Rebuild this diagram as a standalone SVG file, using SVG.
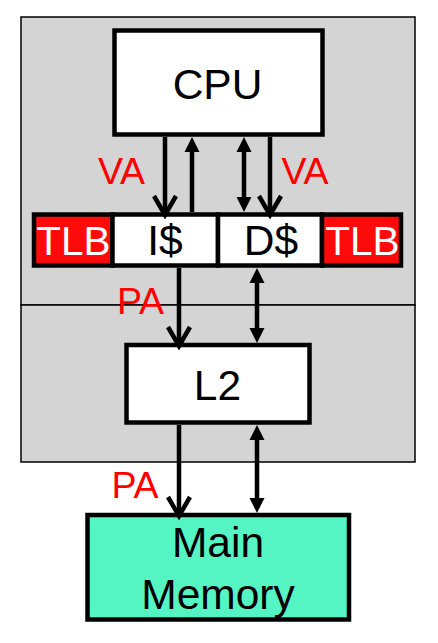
<svg xmlns="http://www.w3.org/2000/svg" width="438" height="643" viewBox="0 0 438 643">
<defs>
<style>
.region{fill:#d4d4d4;stroke:#000;stroke-width:1.5}
.box{stroke:#000;stroke-width:4.5}
.white{fill:#fff}
.red{fill:#ff0a0a}
.mem{fill:#55f5c3}
.lbl{font-family:"Liberation Sans",Arial,sans-serif;font-size:42.5px;text-anchor:middle;fill:#000}
.wlbl{font-family:"Liberation Sans",Arial,sans-serif;font-size:40.5px;text-anchor:middle;fill:#fff}
.addr{font-family:"Liberation Sans",Arial,sans-serif;font-size:37.5px;text-anchor:middle;fill:#ff0000}
.wire{stroke:#000;stroke-width:4.5;fill:none}
</style>
<marker id="chev" markerUnits="userSpaceOnUse" viewBox="-22 -13 25 26" markerWidth="25" markerHeight="26" refX="-3" refY="0" orient="auto" overflow="visible">
<path d="M-19,-11 L0,0 L-19,11" fill="none" stroke="#000" stroke-width="4.5" stroke-linejoin="miter" stroke-miterlimit="10"/>
</marker>
<marker id="tri" markerUnits="userSpaceOnUse" viewBox="0 -8 16 16" markerWidth="16" markerHeight="16" refX="2" refY="0" orient="auto-start-reverse" overflow="visible">
<path d="M0,-7.5 L15,0 L0,7.5 Z" fill="#000"/>
</marker>
</defs>
<g id="regions">
<rect class="region" x="21" y="17" width="394" height="288"/>
<rect class="region" x="21" y="305" width="394" height="157"/>
</g>
<g id="cpu">
<rect class="box white" x="114.5" y="30.5" width="208" height="104"/>
<text class="lbl" x="217.5" y="99">CPU</text>
</g>
<g id="tlb-left">
<rect class="box red" x="34" y="214.5" width="78.5" height="51"/>
<text class="wlbl" x="73.5" y="255">TLB</text>
</g>
<g id="icache">
<rect class="box white" x="112.5" y="214.5" width="105.5" height="51"/>
<text class="lbl" x="165" y="255">I$</text>
</g>
<g id="dcache">
<rect class="box white" x="218" y="214.5" width="104" height="51"/>
<text class="lbl" x="271" y="255">D$</text>
</g>
<g id="tlb-right">
<rect class="box red" x="322" y="214.5" width="79" height="51"/>
<text class="wlbl" x="362.5" y="255">TLB</text>
</g>
<g id="l2">
<rect class="box white" x="126.5" y="345" width="183" height="77.5"/>
<text class="lbl" x="217.5" y="400">L2</text>
</g>
<g id="main-memory">
<rect class="box mem" x="87.5" y="515" width="261.5" height="104.5"/>
<text class="lbl" x="218" y="557">Main</text>
<text class="lbl" x="218" y="609">Memory</text>
</g>
<g id="connectors">
<line class="wire" x1="165" y1="137" x2="165" y2="212" marker-end="url(#chev)"/>
<line class="wire" x1="192" y1="212" x2="192" y2="150" marker-end="url(#tri)"/>
<line class="wire" x1="244" y1="150" x2="244" y2="199" marker-start="url(#tri)" marker-end="url(#tri)"/>
<line class="wire" x1="270" y1="137" x2="270" y2="212" marker-end="url(#chev)"/>
<line class="wire" x1="179" y1="268" x2="179" y2="343" marker-end="url(#chev)"/>
<line class="wire" x1="257" y1="281" x2="257" y2="330" marker-start="url(#tri)" marker-end="url(#tri)"/>
<line class="wire" x1="179" y1="425" x2="179" y2="513" marker-end="url(#chev)"/>
<line class="wire" x1="257" y1="438" x2="257" y2="500" marker-start="url(#tri)" marker-end="url(#tri)"/>
</g>
<g id="labels">
<text class="addr" x="121.5" y="184">VA</text>
<text class="addr" x="305" y="184">VA</text>
<text class="addr" x="140.5" y="314">PA</text>
<text class="addr" x="135" y="498">PA</text>
</g>
</svg>
